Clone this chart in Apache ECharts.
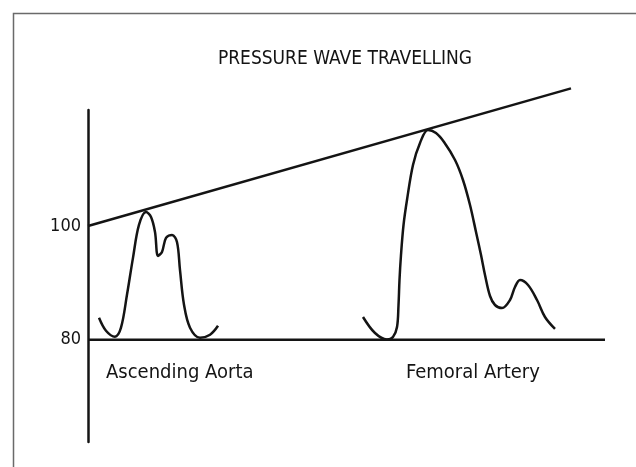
<!DOCTYPE html>
<html>
<head>
<meta charset="utf-8">
<script src="https://cdn.jsdelivr.net/npm/echarts@6/dist/echarts.min.js"></script>
<style>
html,body{margin:0;padding:0;background:#fff;}
#chart{width:636px;height:467px;}
</style>
</head>
<body>
<div id="chart"></div>
<script>
// pressure traces, x in arbitrary time units (0..100), y in mmHg
var aortaWave = [
  [2.13, 83.86], [3.48, 81.58], [5.22, 80.53], [6.38, 82.11], [7.54, 87.89],
  [8.70, 94.39], [9.86, 100.18], [11.22, 102.46], [12.19, 101.58], [12.96, 98.95],
  [13.54, 94.74], [14.31, 95.44], [15.09, 97.89], [16.25, 98.42], [17.21, 97.19],
  [17.79, 92.28], [18.57, 86.14], [19.73, 82.11], [21.66, 80.35], [23.60, 80.88],
  [25.15, 82.46]
];
var femoralWave = [
  [53.19, 83.99], [55.51, 81.17], [57.83, 80.03], [58.99, 80.47], [59.77, 82.23],
  [60.06, 86.10], [60.25, 90.50], [60.54, 94.89], [61.03, 100.17], [61.70, 104.57],
  [62.86, 110.73], [64.22, 114.60], [65.76, 116.88], [67.31, 116.35], [68.86, 114.77],
  [70.99, 111.60], [72.53, 108.09], [73.89, 103.69], [75.05, 98.94], [76.02, 94.89],
  [76.79, 91.38], [77.76, 87.68], [78.72, 86.10], [80.08, 85.57], [81.62, 86.98],
  [82.59, 89.27], [83.56, 90.50], [85.11, 89.62], [86.85, 86.98], [88.39, 83.99],
  [90.33, 81.88]
];
var trendLine = [[0, 100], [93.42, 124.2]];
var baseLine = [[0, 80], [100, 80]];
var yTicks = [80, 100];
var waveNames = ['Ascending Aorta', 'Femoral Artery'];

var ink = '#141414';
var font = '"Liberation Sans Narrow", "DejaVu Sans Condensed", sans-serif';

var chart = echarts.init(document.getElementById('chart'));
chart.setOption({
  backgroundColor: '#fff',
  animation: false,
  title: {
    text: 'PRESSURE WAVE TRAVELLING',
    left: 340, top: 45, textAlign: 'center',
    textStyle: { fontFamily: font, fontSize: 19, fontWeight: 'normal', color: ink }
  },
  grid: { left: 88, right: 31, top: 110, bottom: 25 },
  xAxis: { type: 'value', min: 0, max: 100, show: false },
  yAxis: {
    type: 'value', min: 62, max: 120.4,
    splitLine: { show: false },
    axisTick: { show: false },
    axisLine: { show: true, lineStyle: { color: ink, width: 2.5 } },
    axisLabel: { customValues: yTicks, margin: 7, fontFamily: font, fontSize: 18, color: ink }
  },
  graphic: [
    { type: 'rect', shape: { x: 13.5, y: 13.5, width: 700, height: 600 },
      style: { fill: 'none', stroke: '#6a6a6a', lineWidth: 1.5 }, silent: true },
    { type: 'text', x: 106, y: 373,
      style: { text: waveNames[0], font: '20px ' + font, fill: ink, verticalAlign: 'middle' } },
    { type: 'text', x: 406, y: 373,
      style: { text: waveNames[1], font: '20px ' + font, fill: ink, verticalAlign: 'middle' } }
  ],
  series: [
    { type: 'line', data: baseLine, symbol: 'none', lineStyle: { color: ink, width: 2.5 } },
    { type: 'line', data: trendLine, symbol: 'none', clip: false, lineStyle: { color: ink, width: 2.5 } },
    { type: 'line', name: waveNames[0], data: aortaWave, smooth: 0.35, symbol: 'none', lineStyle: { color: ink, width: 2.5 } },
    { type: 'line', name: waveNames[1], data: femoralWave, smooth: 0.35, symbol: 'none', lineStyle: { color: ink, width: 2.5 } }
  ]
});
</script>
</body>
</html>
